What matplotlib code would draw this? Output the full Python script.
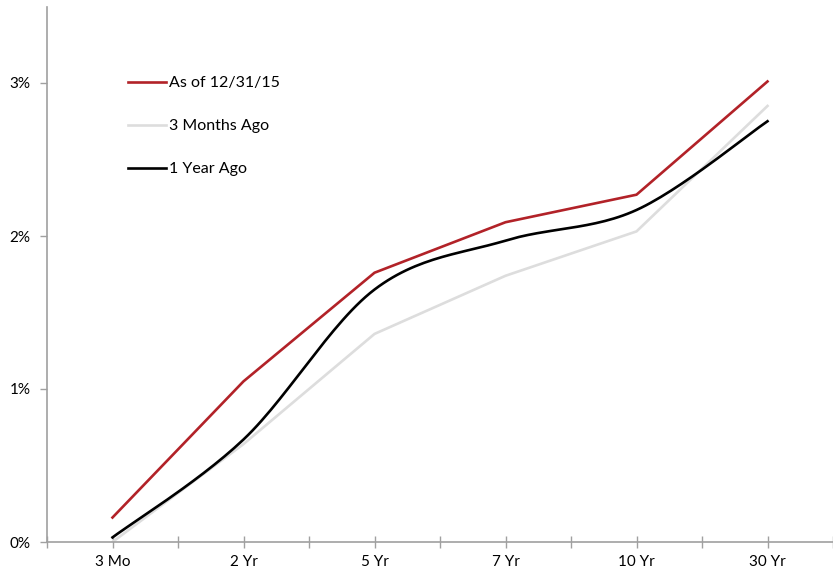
import numpy as np
import matplotlib.pyplot as plt

# yield curve data (percent)
tenors = ["3 Mo", "2 Yr", "5 Yr", "7 Yr", "10 Yr", "30 Yr"]
as_of = [0.16, 1.05, 1.76, 2.09, 2.27, 3.01]
three_mo_ago = [0.0, 0.64, 1.36, 1.74, 2.03, 2.85]
one_yr_ago = [0.03, 0.67, 1.65, 1.97, 2.17, 2.75]


def smooth(x, y, n=30):
    # excel style bezier smoothing through the points
    x = np.asarray(x, float)
    y = np.asarray(y, float)
    px = np.concatenate([[x[0]], x, [x[-1]]])
    py = np.concatenate([[y[0]], y, [y[-1]]])
    xs, ys = [], []
    t = np.linspace(0, 1, n)
    for i in range(1, len(px) - 2):
        p0 = np.array([px[i], py[i]])
        p3 = np.array([px[i + 1], py[i + 1]])
        p1 = p0 + (np.array([px[i + 1], py[i + 1]]) - np.array([px[i - 1], py[i - 1]])) / 6
        p2 = p3 - (np.array([px[i + 2], py[i + 2]]) - p0) / 6
        b = ((1 - t) ** 3)[:, None] * p0 + (3 * (1 - t) ** 2 * t)[:, None] * p1 \
            + (3 * (1 - t) * t ** 2)[:, None] * p2 + (t ** 3)[:, None] * p3
        xs.extend(b[:, 0])
        ys.extend(b[:, 1])
    return xs, ys


plt.rcParams['font.family'] = ['Lato', 'DejaVu Sans']

fig = plt.figure(figsize=(8.33, 5.71), dpi=100)
ax = fig.add_axes([47 / 833, 29 / 571, 786 / 833, 535.5 / 571])

xpos = np.arange(len(tenors))
ax.plot(xpos, as_of, color="#B22228", lw=1.9, label="As of 12/31/15", solid_joinstyle="miter")
ax.plot(xpos, three_mo_ago, color="#DDDDDD", lw=1.9, label="3 Months Ago")
sx, sy = smooth(xpos, one_yr_ago)
ax.plot(sx, sy, color="black", lw=1.9, label="1 Year Ago")

ax.set_xlim(-0.5, -0.5 + 786 / 132)
ax.set_ylim(0, 3.5)
ax.set_xticks(xpos)
ax.set_xticklabels(tenors, fontsize=11)
ax.set_xticks(np.arange(-0.5, 6, 1), minor=True)
ax.set_yticks([0, 1, 2, 3])
ax.set_yticklabels(["0%", "1%", "2%", "3%"], fontsize=11)

for s in ["top", "right"]:
    ax.spines[s].set_visible(False)
for s in ["left", "bottom"]:
    ax.spines[s].set_color("#A0A0A0")
    ax.spines[s].set_linewidth(1.2)
ax.tick_params(axis="x", which="both", direction="inout", length=8, color="#A0A0A0", width=1.0, pad=5)
ax.tick_params(axis="y", direction="out", length=5, color="#A0A0A0", width=1.0, pad=7)

leg = ax.legend(loc="upper left", bbox_to_anchor=(0.095, 0.882), frameon=False, fontsize=11.5,
                handlelength=2.4, handletextpad=0.15, labelspacing=1.8, borderaxespad=0)

fig.savefig("out.png", dpi=100)
